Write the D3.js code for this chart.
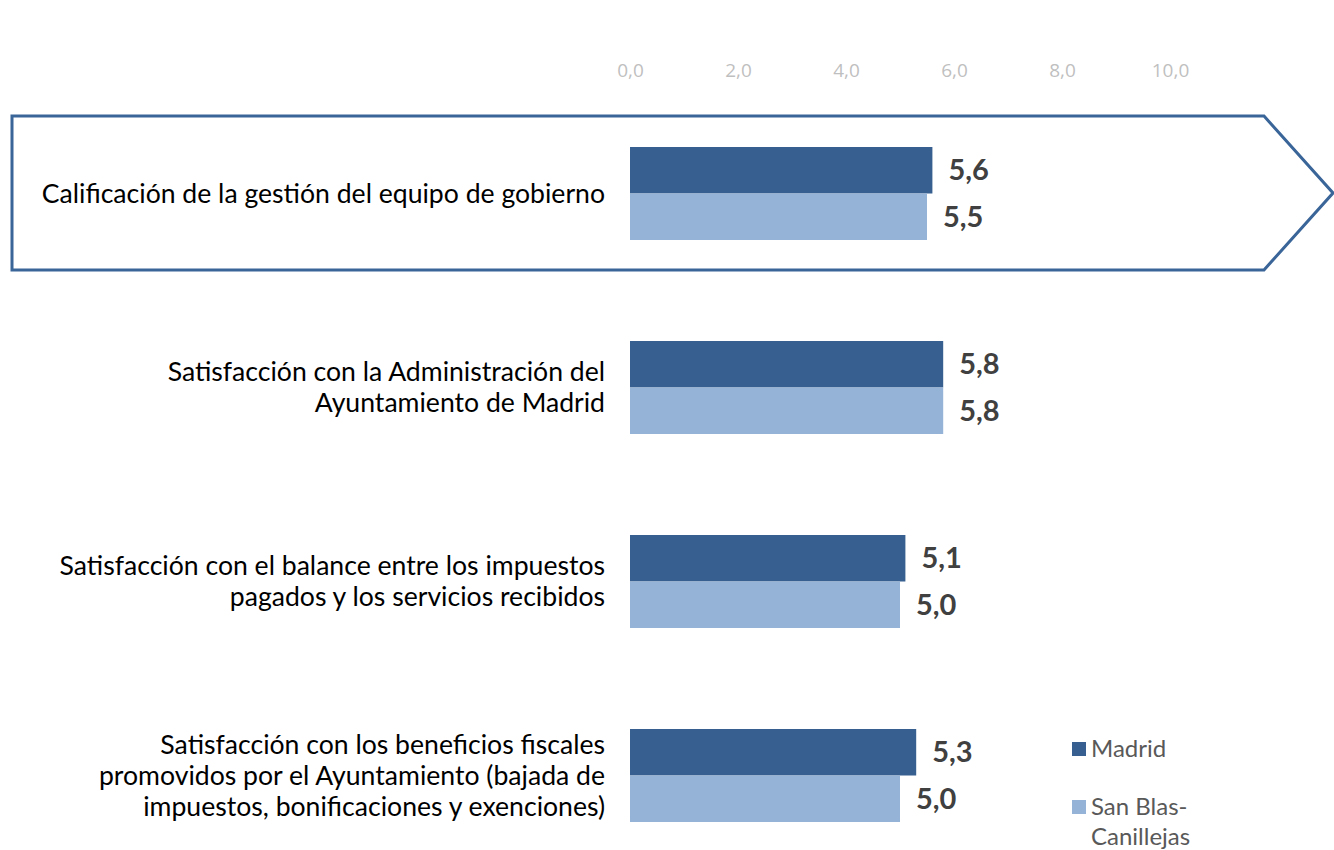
<!DOCTYPE html>
<html>
<head>
<meta charset="utf-8">
<script src="https://cdn.jsdelivr.net/npm/d3@7"></script>
<style>
  body { margin: 0; background: #fff; }
  svg { display: block; }
</style>
</head>
<body>
<svg width="1334" height="850"></svg>
<script>
// chart data
var categories = [
  ["Calificación de la gestión del equipo de gobierno"],
  ["Satisfacción con la Administración del", "Ayuntamiento de Madrid"],
  ["Satisfacción con el balance entre los impuestos", "pagados y los servicios recibidos"],
  ["Satisfacción con los beneficios fiscales", "promovidos por el Ayuntamiento (bajada de", "impuestos, bonificaciones y exenciones)"]
]
var madridValues = [5.6, 5.8, 5.1, 5.3]
var sanBlasValues = [5.5, 5.8, 5.0, 5.0]
var seriesNames = ["Madrid", "San Blas-Canillejas"]
var tickValues = [0, 2, 4, 6, 8, 10]

var colors = ["#375f8f", "#95b3d7"]
var fmt = function(v){ return v.toFixed(1).replace(".", ",") }

var svg = d3.select("svg")

// highlight arrow behind first row
svg.append("path")
  .attr("d", "M12,116 L1264,116 L1333,193 L1264,270 L12,270 Z")
  .attr("fill", "none")
  .attr("stroke", "#3a6599")
  .attr("stroke-width", 3)

var x = d3.scaleLinear().domain([0, 10]).range([630, 1170])
var y = d3.scaleBand().domain(d3.range(categories.length)).range([147, 147 + 194 * 4]).paddingInner(0)
var barH = 46.5

// axis on top, just the labels
var axis = svg.append("g")
  .attr("transform", "translate(0,77)")
  .call(d3.axisTop(x).tickValues(tickValues).tickFormat(fmt).tickSize(0))
axis.select(".domain").remove()
axis.selectAll("text")
  .attr("dy", 0)
  .attr("y", 0)
  .style("font-family", "Open Sans, sans-serif")
  .style("font-size", "19px")
  .style("fill", "#bfbfbf")

var rows = svg.selectAll("g.row")
  .data(categories)
  .enter()
  .append("g")
  .attr("class", "row")
  .attr("transform", (d,i)=>"translate(0," + y(i) + ")")

var series = [madridValues, sanBlasValues]
series.forEach(function(vals, s){
  rows.append("rect")
    .attr("x", x(0))
    .attr("y", s * barH)
    .attr("width", (d,i)=>x(vals[i]) - x(0))
    .attr("height", barH)
    .attr("fill", colors[s])

  rows.append("text")
    .attr("x", (d,i)=>x(vals[i]) + 16)
    .attr("y", s * barH + barH / 2 + 10)
    .style("font-family", "Lato, sans-serif")
    .style("font-weight", "bold")
    .style("font-size", "29px")
    .style("fill", "#404040")
    .text((d,i)=>fmt(vals[i]))
})

// category labels, right aligned, centred on the pair of bars
rows.each(function(lines){
  var g = d3.select(this)
  var lh = 31
  var start = barH - (lines.length - 1) * lh / 2
  lines.forEach(function(line, k){
    g.append("text")
      .attr("x", 605)
      .attr("y", start + k * lh + 9)
      .attr("text-anchor", "end")
      .style("font-family", "Lato, sans-serif")
      .style("font-size", "26.6px")
      .style("fill", "#000")
      .text(line)
  })
})

// legend
var legend = svg.append("g")
var legY = [749, 807]
legend.selectAll("rect")
  .data(seriesNames)
  .enter()
  .append("rect")
  .attr("x", 1072)
  .attr("y", (d,i)=>legY[i] - 7)
  .attr("width", 14)
  .attr("height", 14)
  .attr("fill", (d,i)=>colors[i])

var legText = [["Madrid"], ["San Blas-", "Canillejas"]]
legText.forEach(function(lines, i){
  lines.forEach(function(line, k){
    legend.append("text")
      .attr("x", 1091)
      .attr("y", legY[i] + 8 + k * 30)
      .style("font-family", "Lato, sans-serif")
      .style("font-size", "24px")
      .style("fill", "#595959")
      .text(line)
  })
})
</script>
</body>
</html>
